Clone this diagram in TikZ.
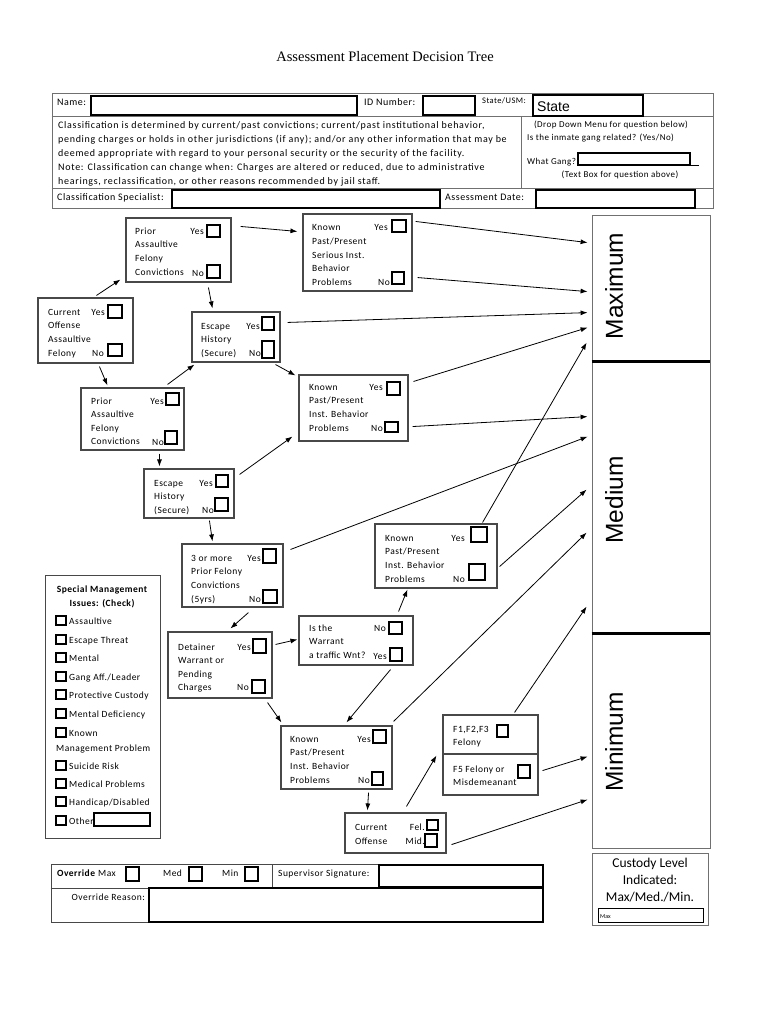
\documentclass[tikz,border=0pt]{standalone}
\usepackage{fontspec}
\setmainfont{Carlito}
\newfontfamily\lsf{Carlito}[LetterSpace=5]
\newfontfamily\hsf{Carlito}[LetterSpace=7]
\newfontfamily\arialf{Liberation Sans}
\newfontfamily\timesf{Liberation Serif}
\usetikzlibrary{arrows.meta,fit}
\definecolor{boxgray}{HTML}{484848}
\definecolor{lightgray2}{HTML}{707070}
\tikzset{
 dbox/.style={draw=boxgray, line width=1.1pt, inner sep=0pt},
 cbox/.style={draw=black, line width=1.7pt, inner sep=0pt},
 fld/.style={draw=black, line width=1.1pt, inner sep=0pt},
 lvl/.style={draw=lightgray2, line width=0.8pt, inner sep=0pt},
 txt/.style={anchor=base west, inner sep=0pt, font=\lsf\fontsize{9.5}{11}\selectfont},
 rtxt/.style={anchor=base east, inner sep=0pt, font=\lsf\fontsize{9.5}{11}\selectfont},
 htxt/.style={anchor=base west, inner sep=0pt, font=\hsf\fontsize{10}{12}\selectfont},
 ltxt/.style={anchor=base west, inner sep=0pt, font=\lsf\fontsize{10}{12}\selectfont},
 stxt/.style={anchor=base west, inner sep=0pt, font=\lsf\fontsize{8.5}{10}\selectfont},
 gtxt/.style={inner sep=0pt, font=\lsf\fontsize{9}{10}\selectfont},
 ctxt/.style={anchor=base, inner sep=0pt, font=\fontsize{13.5}{15}\selectfont},
 arr/.style={-{Latex[length=7pt,width=5pt]}, line width=0.8pt},
 lvltxt/.style={rotate=90, inner sep=0pt, font=\arialf\fontsize{24.5}{26}\selectfont},
}
\newcommand{\boxlines}[5]{\foreach \t [count=\i from 0] in {#5} {\node[txt] (#1-\i) at (#2,#3+\i*#4) {\t};}}
\newcommand{\smitem}[3]{\node[cbox, line width=1.5pt, fit={(56,#2-5) (66,#2+4)}] (smc-#1) {};
  \node[txt] (smi-#1) at (69,#2+3.5) {#3};}
\begin{document}
\begin{tikzpicture}[x=1pt,y=-1pt]
\useasboundingbox (0,0) rectangle (770,1024);
% title
\node[inner sep=0pt, anchor=base, font=\timesf\fontsize{14.5}{16}\selectfont] (title) at (385,62) {Assessment Placement Decision Tree};

% ---------- header ----------
\node[draw=lightgray2, line width=1pt, inner sep=0pt, fit={(52,94) (713,209)}] (hdr) {};
\draw[lightgray2, line width=0.8pt] (hdr.west |- 0,116) -- (hdr.east |- 0,116);
\draw[lightgray2, line width=0.8pt] (hdr.west |- 0,188) -- (hdr.east |- 0,188);
\draw[lightgray2, line width=0.8pt] (521,116) -- (521,188);
\node[ltxt] (lname) at (57,106) {Name:};
\node[fld, fit={(91,96) (357,115)}] (fname) {};
\node[ltxt] (lid) at (364,106) {ID Number:};
\node[fld, fit={(423,96) (475,115)}] (fid) {};
\node[stxt] (lstate) at (482,104) {State/USM:};
\node[fld, fit={(533,95) (643,116)}] (fstate) {};
\node[anchor=base west, inner sep=0pt, font=\arialf\fontsize{14}{16}\selectfont] (vstate) at (537,112) {State};
\node[htxt] (p1l) at (58,129) {Classification is determined by current/past convictions; current/past institutional behavior,};
\node[htxt] (p2l) at (58,143) {pending charges or holds in other jurisdictions (if any); and/or any other information that may be};
\node[htxt] (p3l) at (58,157) {deemed appropriate with regard to your personal security or the security of the facility.};
\node[htxt] (p4l) at (58,171) {Note: Classification can change when: Charges are altered or reduced, due to administrative};
\node[htxt] (p5l) at (58,185) {hearings, reclassification, or other reasons recommended by jail staff.};
\node[gtxt, anchor=base] (dd) at (611,128) {(Drop Down Menu for question below)};
\node[gtxt, anchor=base west] (gq) at (527,141) {Is the inmate gang related? (Yes/No)};
\node[gtxt, anchor=base west] (wg) at (527,165) {What Gang?};
\node[fld, fit={(578,153) (690,165)}] (fgang) {};
\draw[line width=0.5pt] (fgang.south east) -- ++(8,0);
\node[gtxt, anchor=base] (tb) at (620,178) {(Text Box for question above)};
\node[ltxt] (lspec) at (57,201) {Classification Specialist:};
\node[fld, fit={(172,190) (440,208)}] (fspec) {};
\node[ltxt] (ldate) at (445,201) {Assessment Date:};
\node[fld, fit={(536,190) (695,208)}] (fdate) {};

% ---------- level boxes ----------
\node[lvl, fit={(592,215) (710,362)}] (max) {};
\node[lvl, fit={(592,362) (710,634)}] (med) {};
\node[lvl, fit={(592,634) (710,848)}] (min) {};
\draw[line width=2.5pt] (med.north west) -- (med.north east);
\draw[line width=2.5pt] (min.north west) -- (min.north east);
\node[lvltxt] (tmax) at (614,286) {Maximum};
\node[lvltxt] (tmed) at (614,500) {Medium};
\node[lvltxt] (tmin) at (614,742) {Minimum};
\node[lvl, fit={(592,853) (708,925)}] (cust) {};
\node[ctxt] (cust-1) at (650,867) {Custody Level};
\node[ctxt] (cust-2) at (650,884) {Indicated:};
\node[ctxt] (cust-3) at (650,901) {Max/Med./Min.};
\node[draw=black, line width=1pt, inner sep=0pt, fit={(598,908) (703,922)}] (custf) {};
\node[anchor=base west, inner sep=0pt, font=\fontsize{6}{7}\selectfont] (custv) at (600,918) {Max};

% ---------- decision boxes ----------
% Prior (top)
\node[dbox, fit={(126,218) (231,282)}] (p1) {};
\boxlines{p1t}{135}{234}{13.8}{Prior,Assaultive,Felony,Convictions}
\node[rtxt] (p1yt) at (204,234) {Yes};
\node[rtxt] (p1nt) at (204,276) {No};
\node[cbox, fit={(207,225) (220,237)}] (p1y) {};
\node[cbox, fit={(207,265) (220,278)}] (p1n) {};
% Current offense assaultive felony
\node[dbox, fit={(38,298) (133,363)}] (co) {};
\boxlines{cot}{48}{315}{13.7}{Current,Offense,Assaultive,Felony}
\node[rtxt] (coyt) at (105,315) {Yes};
\node[rtxt] (cont) at (104,356) {No};
\node[cbox, fit={(108,305) (122,318)}] (coy) {};
\node[cbox, fit={(108,344) (122,356)}] (con) {};
% Escape (top)
\node[dbox, fit={(192,312) (280,362)}] (e1) {};
\boxlines{e1t}{201}{329}{13.5}{Escape,History,(Secure)}
\node[rtxt] (e1yt) at (260,329) {Yes};
\node[rtxt] (e1nt) at (261,356) {No};
\node[cbox, fit={(262,317) (274,330)}] (e1y) {};
\node[cbox, fit={(262,341) (274,358)}] (e1n) {};
% Known serious
\node[dbox, fit={(303,214) (412,291)}] (k1) {};
\boxlines{k1t}{312}{231}{13.6}{Known,Past/Present,Serious Inst.,Behavior,Problems}
\node[rtxt] (k1yt) at (388,231) {Yes};
\node[rtxt] (k1nt) at (390,285) {No};
\node[cbox, fit={(392,220) (406,232)}] (k1y) {};
\node[cbox, fit={(392,272) (404,284)}] (k1n) {};
% Known middle
\node[dbox, fit={(299,375) (408,441)}] (k2) {};
\boxlines{k2t}{309}{390}{13.7}{Known,Past/Present,Inst. Behavior,Problems}
\node[rtxt] (k2yt) at (383,390) {Yes};
\node[rtxt] (k2nt) at (383,431) {No};
\node[cbox, fit={(387,382) (400,395)}] (k2y) {};
\node[cbox, fit={(385,422) (398,432)}] (k2n) {};
% Prior (second)
\node[dbox, fit={(81,388) (184,450)}] (p2) {};
\boxlines{p2t}{91}{404}{13.6}{Prior,Assaultive,Felony,Convictions}
\node[rtxt] (p2yt) at (164,404) {Yes};
\node[rtxt] (p2nt) at (164,445) {No};
\node[cbox, fit={(166,393) (179,405)}] (p2y) {};
\node[cbox, fit={(165,431) (177,444)}] (p2n) {};
% Escape (second)
\node[dbox, fit={(144,469) (234,518)}] (e2) {};
\boxlines{e2t}{154}{486}{13.5}{Escape,History,(Secure)}
\node[rtxt] (e2yt) at (213,486) {Yes};
\node[rtxt] (e2nt) at (214,513) {No};
\node[cbox, fit={(216,475) (228,487)}] (e2y) {};
\node[cbox, fit={(215,498) (228,511)}] (e2n) {};
% 3 or more
\node[dbox, fit={(182,544) (283,607)}] (t3) {};
\boxlines{t3t}{191}{561}{13.7}{3 or more,Prior Felony,Convictions,(5yrs)}
\node[rtxt] (t3yt) at (261,561) {Yes};
\node[rtxt] (t3nt) at (261,602) {No};
\node[cbox, fit={(263,549) (276,563)}] (t3y) {};
\node[cbox, fit={(263,590) (277,603)}] (t3n) {};
% Detainer
\node[dbox, fit={(168,632) (272,698)}] (dw) {};
\boxlines{dwt}{178}{650}{13.5}{Detainer,Warrant or,Pending,Charges}
\node[rtxt] (dwyt) at (251,650) {Yes};
\node[rtxt] (dwnt) at (249,690) {No};
\node[cbox, fit={(253,639) (266,653)}] (dwy) {};
\node[cbox, fit={(252,680) (265,693)}] (dwn) {};
% Is the warrant
\node[dbox, fit={(299,616) (413,665)}] (iw) {};
\boxlines{iwt}{309}{631}{13.8}{Is the,Warrant,a traffic Wnt?}
\node[rtxt] (iwnt) at (386,631) {No};
\node[rtxt] (iwyt) at (387,659) {Yes};
\node[cbox, fit={(389,622) (402,634)}] (iwn) {};
\node[cbox, fit={(390,648) (402,661)}] (iwy) {};
% Known lower right
\node[dbox, fit={(375,524) (497,588)}] (k3) {};
\boxlines{k3t}{385}{541}{13.7}{Known,Past/Present,Inst. Behavior,Problems}
\node[rtxt] (k3yt) at (465,541) {Yes};
\node[rtxt] (k3nt) at (465,582) {No};
\node[cbox, fit={(471,527) (487,542)}] (k3y) {};
\node[cbox, fit={(469,564) (485,580)}] (k3n) {};
% Known lower left
\node[dbox, fit={(281,726) (392,789)}] (k4) {};
\boxlines{k4t}{290}{742}{13.7}{Known,Past/Present,Inst. Behavior,Problems}
\node[rtxt] (k4yt) at (371,742) {Yes};
\node[rtxt] (k4nt) at (370,783) {No};
\node[cbox, fit={(373,730) (386,743)}] (k4y) {};
\node[cbox, fit={(372,772) (383,785)}] (k4n) {};
% Current offense Fel/Mid
\node[dbox, fit={(345,813) (446,853)}] (cf) {};
\boxlines{cft}{355}{830}{14}{Current,Offense}
\node[rtxt] (cfyt) at (425,830) {Fel.};
\node[rtxt] (cfnt) at (425,844) {Mid.};
\node[cbox, fit={(427,820) (438,830)}] (cfy) {};
\node[cbox, fit={(425,834) (437,847)}] (cfn) {};
% F box
\node[dbox, fit={(443,715) (538,795)}] (ff) {};
\draw[boxgray, line width=1.1pt] (ff.west |- 0,754) -- (ff.east |- 0,754);
\node[txt] (fft-0) at (453,732) {F1,F2,F3};
\node[txt] (fft-1) at (453,745) {Felony};
\node[txt] (fgt-0) at (453,772) {F5 Felony or};
\node[txt] (fgt-1) at (453,785) {Misdemeanant};
\node[cbox, fit={(497,725) (508,737)}] (ff1) {};
\node[cbox, fit={(518,765) (530,778)}] (ff2) {};

% ---------- special management ----------
\node[dbox, line width=0.9pt, fit={(45,575) (160,838)}] (sm) {};
\node[anchor=base, inner sep=0pt, font=\lsf\bfseries\fontsize{9.5}{11}\selectfont] (smt1) at (102,592) {Special Management};
\node[anchor=base, inner sep=0pt, font=\lsf\bfseries\fontsize{9.5}{11}\selectfont] (smt2) at (102,606) {Issues: (Check)};
\smitem{1}{621}{Assaultive}
\smitem{2}{640}{Escape Threat}
\smitem{3}{658}{Mental}
\smitem{4}{677}{Gang Aff./Leader}
\smitem{5}{695}{Protective Custody}
\smitem{6}{714}{Mental Deficiency}
\smitem{7}{733}{Known}
\node[txt] (smk) at (56,751.5) {Management Problem};
\smitem{8}{766}{Suicide Risk}
\smitem{9}{784}{Medical Problems}
\smitem{10}{802}{Handicap/Disabled}
\smitem{11}{821}{Other}
\node[fld, fit={(94,813) (150,826)}] (smo) {};

% ---------- override ----------
\node[dbox, line width=0.9pt, fit={(51,864) (543,922)}] (ov) {};
\draw[boxgray, line width=0.9pt] (ov.west |- 0,888) -- (ov.east |- 0,888);
\draw[boxgray, line width=0.9pt] (272,864) -- (272,888);
\node[txt] (ovt) at (57,876) {\textbf{Override} Max};
\node[cbox, fit={(126,867) (139,881)}] (ovmax) {};
\node[txt] (ovmed) at (163,876) {Med};
\node[cbox, fit={(189,867) (202,881)}] (ovmedc) {};
\node[txt] (ovmin) at (222,876) {Min};
\node[cbox, fit={(245,867) (258,881)}] (ovminc) {};
\node[txt] (ovsig) at (278,876) {Supervisor Signature:};
\node[fld, fit={(379,865) (543,887)}] (fsig) {};
\node[rtxt] (ovr) at (145,900) {Override Reason:};
\node[fld, fit={(149,888) (543,922)}] (freason) {};

% ---------- connectors ----------
\draw[arr] ([shift={(59,-2)}]co.north west) -- ([shift={(-5,-3)}]p1.south west);
\draw[arr] ([shift={(9,9)}]p1.north east) -- ([shift={(-5,18)}]k1.north west);
\draw[arr] ([shift={(83,5)}]p1.south west) -- ([shift={(21,-3)}]e1.north west);
\draw[arr] ([shift={(7,11)}]e1.north east) -- ([shift={(-4,98)}]max.north west);
\draw[arr] ([shift={(-5,2)}]e1.south east) -- ([shift={(-3,1)}]k2.north west);
\draw[arr] ([shift={(62,3)}]co.south west) -- ([shift={(27,-2)}]p2.north west);
\draw[arr] ([shift={(-17,-3)}]p2.north east) -- ([shift={(3,2)}]e1.south west);
\draw[arr] ([shift={(79,3)}]p2.south west) -- ([shift={(16,-2)}]e2.north west);
\draw[arr] ([shift={(5,6)}]e2.north east) -- ([shift={(-6,-5)}]k2.south west);
\draw[arr] ([shift={(66,2)}]e2.south west) -- ([shift={(31,-2)}]t3.north west);
\draw[arr] ([shift={(3,8)}]k1.north east) -- ([shift={(-4,28)}]max.north west);
\draw[arr] ([shift={(5,-14)}]k1.south east) -- ([shift={(-4,77)}]max.north west);
\draw[arr] ([shift={(5,7)}]k2.north east) -- ([shift={(-4,113)}]max.north west);
\draw[arr] ([shift={(4,-15)}]k2.south east) -- ([shift={(-4,55)}]med.north west);
\draw[arr] ([shift={(-15,-1)}]k3.north east) -- ([shift={(-5,128)}]max.north west);
\draw[arr] ([shift={(7,6)}]t3.north east) -- ([shift={(-4,75)}]med.north west);
\draw[arr] ([shift={(2,-22)}]k3.south east) -- ([shift={(-5,128)}]med.north west);
\draw[arr] ([shift={(1,-4)}]k4.north east) -- ([shift={(-5,171)}]med.north west);
\draw[arr] ([shift={(-24,-2)}]ff.north east) -- ([shift={(-5,245)}]med.north west);
\draw[arr] ([shift={(-15,-4)}]iw.north east) -- ([shift={(33,1)}]k3.south west);
\draw[arr] ([shift={(-23,4)}]iw.south east) -- ([shift={(66,-3)}]k4.north west);
\draw[arr] ([shift={(67,5)}]t3.south west) -- ([shift={(63,-3)}]dw.north west);
\draw[arr] ([shift={(3,13)}]dw.north east) -- ([shift={(-1,24)}]iw.north west);
\draw[arr] ([shift={(-5,4)}]dw.south east) -- ([shift={(1,-3)}]k4.north west);
\draw[arr] ([shift={(-24,3)}]k4.south east) -- ([shift={(23,-2)}]cf.north west);
\draw[arr] ([shift={(62,-6)}]cf.north west) -- ([shift={(-6,-40)}]ff.south west);
\draw[arr] ([shift={(5,-9)}]cf.south east) -- ([shift={(-4,166)}]min.north west);
\draw[arr] ([shift={(4,-25)}]ff.south east) -- ([shift={(-4,123)}]min.north west);
\end{tikzpicture}
\end{document}
